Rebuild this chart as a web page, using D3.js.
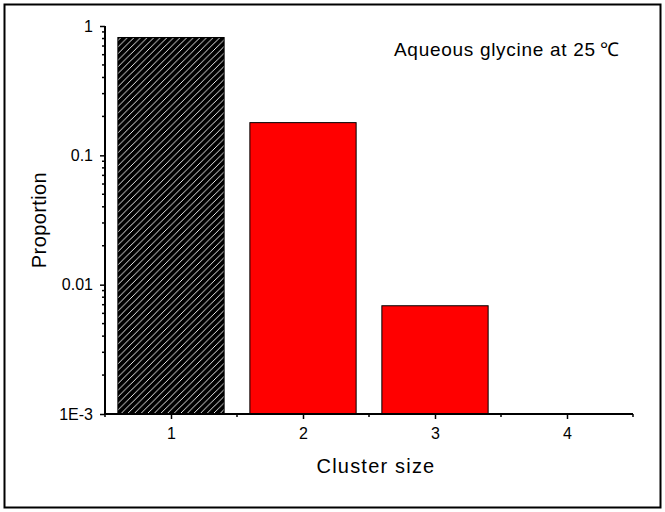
<!DOCTYPE html>
<html><head><meta charset="utf-8">
<script src="https://cdn.jsdelivr.net/npm/d3@7"></script>
<style>html,body{margin:0;padding:0;background:#fff}svg{display:block;font-family:Arial,"Liberation Sans",Helvetica,sans-serif}</style>
</head><body><svg id="c" width="665" height="512"></svg>
<script>
const categories = [1, 2, 3, 4];
const proportions = [0.815, 0.179, 0.00687, 0];
const barFills = ["hatch", "red", "red", "red"];
const yTickValues = [1, 0.1, 0.01, 0.001];
const yTickLabels = ["1", "0.1", "0.01", "1E-3"];
const xTickLabels = ["1", "2", "3", "4"];
const titleMain = "Aqueous glycine at 25";
const titleUnit = "\u2103";
const xTitle = "Cluster size";
const yTitle = "Proportion";

const svg = d3.select("#c");
const x = d3.scaleLinear().domain([0.5, 4.5]).range([105, 633]);
const y = d3.scaleLog().domain([0.001, 1]).range([414, 26]);
const barW = 0.805;

// outer frame
svg.append("rect").attr("x", 4.5).attr("y", 4.5).attr("width", 656).attr("height", 503)
  .attr("fill", "none").attr("stroke", "#000").attr("stroke-width", 2);

// hatch pattern
const defs = svg.append("defs");
const pat = defs.append("pattern").attr("id", "hatch").attr("patternUnits", "userSpaceOnUse")
  .attr("width", 6.6).attr("height", 6.6);
pat.append("rect").attr("width", 6.6).attr("height", 6.6).attr("fill", "#000");
pat.append("path").attr("d", "M-1,7.6 L7.6,-1 M-1,1 L1,-1 M5.6,7.6 L7.6,5.6")
  .attr("stroke", "#fff").attr("stroke-width", 0.9);

// bars
const data = categories.map((c, i) => ({c, v: proportions[i], f: barFills[i]}))
  .filter(d => d.v > y.domain()[0]);
svg.append("g").selectAll("rect").data(data).join("rect")
  .attr("x", d => x(d.c - barW / 2))
  .attr("width", d => x(d.c + barW / 2) - x(d.c - barW / 2))
  .attr("y", d => y(d.v))
  .attr("height", d => y(y.domain()[0]) - y(d.v))
  .attr("fill", d => d.f === "hatch" ? "url(#hatch)" : "#ff0000")
  .attr("stroke", "#000").attr("stroke-width", 1);

// y axis
const yAxis = d3.axisLeft(y).tickValues(yTickValues)
  .tickFormat((d, i) => yTickLabels[i]).tickSize(5).tickPadding(7);
const gy = svg.append("g").attr("transform", `translate(${x.range()[0]},0)`).call(yAxis);
gy.select(".domain").attr("stroke-width", 2).attr("d", `M0,${y.range()[0] + 1}V${y.range()[1]}`);
gy.selectAll(".tick line").attr("stroke-width", 1.5);
gy.selectAll(".tick text").attr("font-size", 16).attr("font-family", "Arial, 'Liberation Sans', sans-serif");
// minor ticks
const minor = [];
for (let e = -3; e < 0; e++) for (let m = 2; m <= 9; m++) minor.push(m * Math.pow(10, e));
gy.append("g").selectAll("line").data(minor).join("line")
  .attr("x1", -3).attr("x2", 0).attr("y1", d => y(d)).attr("y2", d => y(d))
  .attr("stroke", "#000").attr("stroke-width", 1.5);

// x axis
const xAxis = d3.axisBottom(x).tickValues(categories)
  .tickFormat((d, i) => xTickLabels[i]).tickSize(5).tickPadding(9);
const gx = svg.append("g").attr("transform", `translate(0,${y.range()[0]})`).call(xAxis);
gx.select(".domain").attr("stroke-width", 2).attr("d", `M${x.range()[0] - 1},0H${x.range()[1]}`);
gx.selectAll(".tick line").attr("stroke-width", 1.5);
gx.selectAll(".tick text").attr("font-size", 16).attr("font-family", "Arial, 'Liberation Sans', sans-serif");
const xMinor = [0.5, 1.5, 2.5, 3.5, 4.5];
gx.append("g").selectAll("line").data(xMinor).join("line")
  .attr("x1", d => x(d)).attr("x2", d => x(d)).attr("y1", 0).attr("y2", 3)
  .attr("stroke", "#000").attr("stroke-width", 1.5);

// titles
svg.append("text").attr("x", x(2.5) + 7).attr("y", 473).attr("text-anchor", "middle")
  .attr("font-size", 20).attr("letter-spacing", 1.2).text(xTitle);
svg.append("text").attr("transform", `translate(46,${(y.range()[0] + y.range()[1]) / 2}) rotate(-90)`)
  .attr("text-anchor", "middle").attr("font-size", 20).attr("letter-spacing", 0.4).text(yTitle);
const t = svg.append("text").attr("x", 394).attr("y", 56).attr("font-size", 19).attr("letter-spacing", 0.7);
t.append("tspan").text(titleMain);
t.append("tspan").attr("dx", 4).text(titleUnit);
</script></body></html>
